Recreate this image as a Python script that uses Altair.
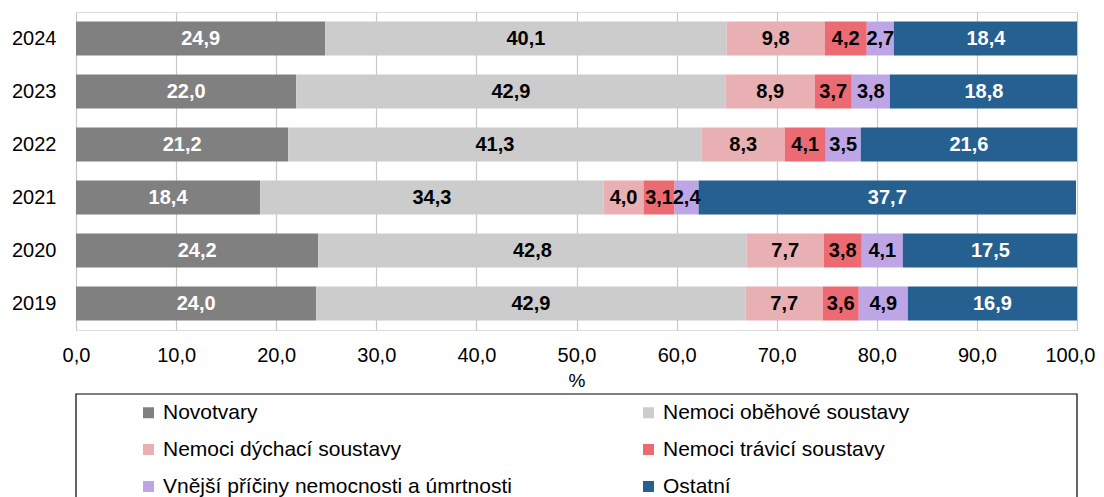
import altair as alt
import pandas as pd

years = ["2024", "2023", "2022", "2021", "2020", "2019"]
categories = [
    "Novotvary",
    "Nemoci oběhové soustavy",
    "Nemoci dýchací soustavy",
    "Nemoci trávicí soustavy",
    "Vnější příčiny nemocnosti a úmrtnosti",
    "Ostatní",
]
colors = ["#808080", "#cccccc", "#e8b0b3", "#ec6b73", "#bea6e6", "#266090"]
label_colors = ["white", "black", "black", "black", "black", "white"]

novotvary = [24.9, 22.0, 21.2, 18.4, 24.2, 24.0]
obehove = [40.1, 42.9, 41.3, 34.3, 42.8, 42.9]
dychaci = [9.8, 8.9, 8.3, 4.0, 7.7, 7.7]
travici = [4.2, 3.7, 4.1, 3.1, 3.8, 3.6]
vnejsi = [2.7, 3.8, 3.5, 2.4, 4.1, 4.9]
ostatni = [18.4, 18.8, 21.6, 37.7, 17.5, 16.9]

series = [novotvary, obehove, dychaci, travici, vnejsi, ostatni]
rows = []
for ci, (cat, vals) in enumerate(zip(categories, series)):
    for y, v in zip(years, vals):
        rows.append({
            "year": y, "cat": cat, "order": ci, "value": v,
            "label": f"{v:.1f}".replace(".", ","),
            "lc": label_colors[ci],
        })
df = pd.DataFrame(rows)

FONT = "Liberation Sans"

base = alt.Chart(df).transform_stack(
    stack="value", groupby=["year"], as_=["x0", "x1"],
    sort=[alt.SortField("order", order="ascending")]
).transform_calculate(mid="(datum.x0 + datum.x1) / 2")

yenc = alt.Y("year:N", sort=years, title=None,
             scale=alt.Scale(paddingInner=0.36, paddingOuter=0.18),
             axis=alt.Axis(labelFont=FONT, labelFontSize=20, labelColor="black",
                           labelPadding=20, ticks=False, domain=False, grid=False))

bars = base.mark_bar(clip=True).encode(
    x=alt.X("x0:Q", title="%",
            scale=alt.Scale(domain=[0, 100], nice=False),
            axis=alt.Axis(values=list(range(0, 101, 10)),
                          labelExpr="replace(format(datum.value, '.1f'), '.', ',')",
                          labelFont=FONT, labelFontSize=20, labelColor="black",
                          labelFlush=False,
                          labelAlign={"expr": "datum.value >= 100 ? 'right' : 'center'"},
                          labelOffset={"expr": "datum.value >= 100 ? 18 : 0"},
                          labelPadding=15, ticks=False, domain=False,
                          gridColor="#c8c8c8", gridWidth=1.2,
                          titleFont=FONT, titleFontSize=19, titleFontWeight="normal",
                          titleColor="black", titlePadding=6)),
    x2="x1:Q",
    y=yenc,
    color=alt.Color("cat:N", sort=categories,
                    scale=alt.Scale(domain=categories, range=colors),
                    legend=alt.Legend(
                        title=None, orient="none", legendX=62, legendY=390,
                        columns=2, columnPadding=126, rowPadding=15,
                        gridAlign="all", direction="horizontal",
                        symbolType="square", symbolSize=121, symbolStrokeWidth=0,
                        symbolOffset=0, labelOffset=4, padding=0,
                        labelFont=FONT, labelFontSize=21, labelColor="black",
                        labelLimit=600)),
    order=alt.Order("order:Q"),
)

text = base.mark_text(font=FONT, fontSize=20, fontWeight="bold").encode(
    x="mid:Q",
    y=alt.Y("year:N", sort=years),
    text="label:N",
    color=alt.Color("lc:N", scale=None),
)

box = alt.Chart(pd.DataFrame({"k": [0]})).mark_rect(
    fill=None, stroke="black", strokeWidth=1.2, clip=False
).encode(x=alt.value(0), x2=alt.value(1001), y=alt.value(382), y2=alt.value(520))

chart = alt.layer(bars, text, box).properties(
    width=1001, height=318,
    padding={"left": 68, "top": 4, "right": 19, "bottom": 200},
    autosize=alt.AutoSizeParams(type="none"),
).configure_view(stroke="black", strokeWidth=2).configure(background="white")

chart.save("out.html", embed_options={"renderer": "svg", "actions": False})
